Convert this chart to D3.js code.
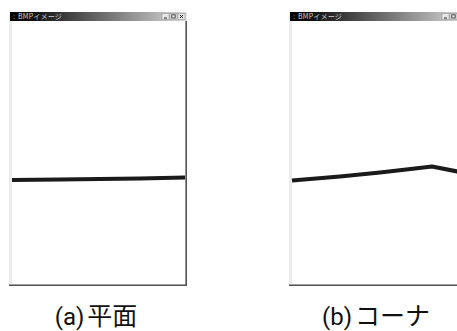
<!DOCTYPE html>
<html><head><meta charset="utf-8">
<script src="https://cdn.jsdelivr.net/npm/d3@7"></script>
<style>body{margin:0;background:#fff}svg{display:block}</style>
</head><body>
<script>
// Panel captions and window titles
const captionLabels = ["(a)", "(b)"];
const captionTexts = ["平面", "コーナ"];
const windowTitle = "BMPイメージ";
// Profile line in each window: x = pixel column inside window client area (0..174), y = height above client bottom
const flatX = [0, 48, 88, 128, 173];
const flatY = [104, 104.5, 105, 105.5, 106.5];
const cornerX = [0, 48, 88, 123, 140, 165, 175];
const cornerY = [103.5, 107.5, 111.5, 115.5, 117.5, 112.5, 110.5];

const W = 457, H = 331;
const svg = d3.select("body").append("svg").attr("width", W).attr("height", H);
const defs = svg.append("defs");
const grad = defs.append("linearGradient").attr("id", "tb");
grad.append("stop").attr("offset", "0%").attr("stop-color", "#000");
grad.append("stop").attr("offset", "15%").attr("stop-color", "#151515");
grad.append("stop").attr("offset", "100%").attr("stop-color", "#dadada");
defs.append("clipPath").attr("id", "vp").append("rect").attr("x", 0).attr("y", 0).attr("width", W).attr("height", H);

const panels = [
  {left: 9, xs: flatX, ys: flatY, lab: captionLabels[0], txt: captionTexts[0], capX: 96},
  {left: 289, xs: cornerX, ys: cornerY, lab: captionLabels[1], txt: captionTexts[1], capX: 376}
];
const winW = 178, winTop = 12, winBottom = 286;

panels.forEach(p => {
  const g = svg.append("g").attr("clip-path", "url(#vp)");
  const L = p.left, R = L + winW;
  // frame
  g.append("rect").attr("x", L).attr("y", winTop).attr("width", winW).attr("height", winBottom - winTop).attr("fill", "#ececec");
  // title bar
  g.append("rect").attr("x", L + 1).attr("y", winTop).attr("width", winW - 2).attr("height", 9).attr("fill", "url(#tb)");
  g.append("text").attr("x", L + 4).attr("y", winTop + 7.3).attr("fill", "#ddd")
    .attr("font-family", "DejaVu Sans").attr("font-size", 7).text(":");
  g.append("text").attr("x", L + 9).attr("y", winTop + 7.3).attr("fill", "#cfcfcf")
    .attr("font-family", "'Noto Sans CJK JP'").attr("font-size", 7).attr("letter-spacing", 0.2).text(windowTitle);
  // buttons
  const bx = [R - 25, R - 17, R - 9];
  [0, 1, 2].forEach(i => {
    g.append("rect").attr("x", bx[i]).attr("y", winTop + 1.5).attr("width", 7).attr("height", 6)
      .attr("fill", "#e8e8e8").attr("stroke", "#888").attr("stroke-width", 0.5);
    if (i === 0) g.append("line").attr("x1", bx[i] + 2).attr("x2", bx[i] + 5).attr("y1", winTop + 6).attr("y2", winTop + 6).attr("stroke", "#222").attr("stroke-width", 1);
    if (i === 1) g.append("rect").attr("x", bx[i] + 1.8).attr("y", winTop + 2.8).attr("width", 3.4).attr("height", 3.2).attr("fill", "none").attr("stroke", "#222").attr("stroke-width", 0.8);
    if (i === 2) g.append("path").attr("d", `M${bx[i]+2},${winTop+3} L${bx[i]+5},${winTop+6} M${bx[i]+5},${winTop+3} L${bx[i]+2},${winTop+6}`).attr("stroke", "#222").attr("stroke-width", 1);
  });
  // client area
  const cL = L + 3, cR = R - 2, cT = winTop + 9, cB = winBottom - 2;
  g.append("rect").attr("x", cL).attr("y", cT).attr("width", cR - cL).attr("height", cB - cT).attr("fill", "#fff");
  // right and bottom dark edges
  g.append("line").attr("x1", R - 0.8).attr("x2", R - 0.8).attr("y1", winTop + 9).attr("y2", winBottom).attr("stroke", "#555").attr("stroke-width", 1.6);
  g.append("line").attr("x1", L).attr("x2", R).attr("y1", winBottom - 0.8).attr("y2", winBottom - 0.8).attr("stroke", "#555").attr("stroke-width", 1.6);

  const x = d3.scaleLinear().domain([0, 174]).range([cL, cL + 174]);
  const y = d3.scaleLinear().domain([0, 262]).range([cB, cB - 262]);
  const pts = p.xs.map((v, i) => [v, p.ys[i]]);
  const line = d3.line().x(d => x(d[0])).y(d => y(d[1]));
  g.append("path").attr("d", line(pts)).attr("fill", "none").attr("stroke", "#1a1a1a")
    .attr("stroke-width", 4.2).attr("stroke-linejoin", "round");

  const t = svg.append("text").attr("x", p.capX).attr("y", 325).attr("text-anchor", "middle")
    .attr("font-family", "Roboto, 'Noto Sans CJK JP'").attr("font-size", 24).attr("fill", "#111");
  t.append("tspan").text(p.lab);
  t.append("tspan").attr("dx", 3).attr("font-family", "'Noto Sans CJK JP'").attr("font-size", 25).text(p.txt);
});
</script>
</body></html>
